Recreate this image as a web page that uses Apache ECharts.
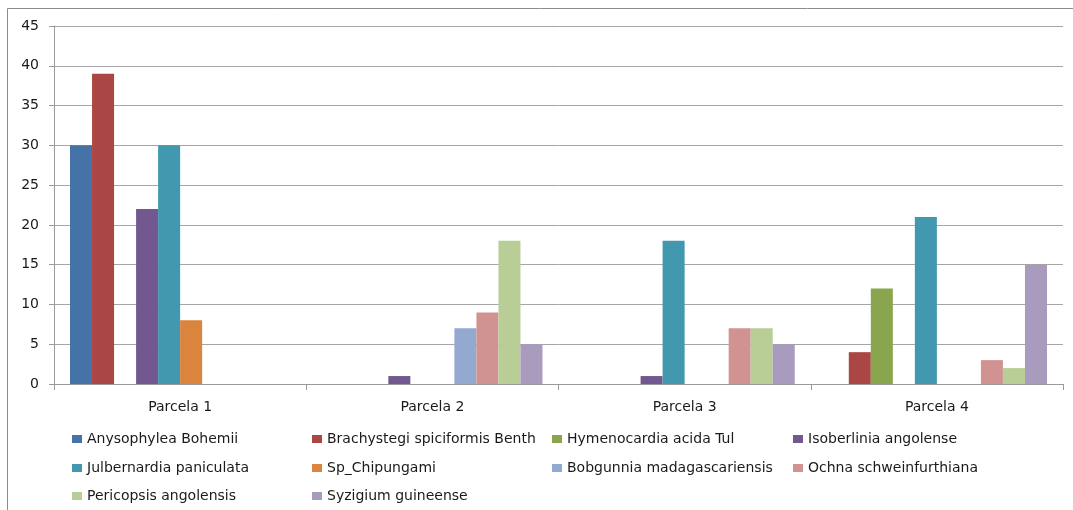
<!DOCTYPE html>
<html>
<head>
<meta charset="utf-8">
<script src="https://cdn.jsdelivr.net/npm/echarts@6/dist/echarts.min.js"></script>
<style>
  html, body { margin: 0; padding: 0; background: #fff; }
  #chart { width: 1073px; height: 510px; }
</style>
</head>
<body>
<div id="chart"></div>
<script>
// Plots and species counts
const categories = ['Parcela 1', 'Parcela 2', 'Parcela 3', 'Parcela 4'];

const anysophylea   = [30, 0, 0, 0];
const brachystegi   = [39, 0, 0, 4];
const hymenocardia  = [0, 0, 0, 12];
const isoberlinia   = [22, 1, 1, 0];
const julbernardia  = [30, 0, 18, 21];
const spChipungami  = [8, 0, 0, 0];
const bobgunnia     = [0, 7, 0, 0];
const ochna         = [0, 9, 7, 3];
const pericopsis    = [0, 18, 7, 2];
const syzigium      = [0, 5, 5, 15];

const seriesNames = [
  'Anysophylea Bohemii', 'Brachystegi spiciformis Benth', 'Hymenocardia acida Tul',
  'Isoberlinia angolense', 'Julbernardia paniculata', 'Sp_Chipungami',
  'Bobgunnia madagascariensis', 'Ochna schweinfurthiana', 'Pericopsis angolensis',
  'Syzigium guineense'
];
const seriesValues = [anysophylea, brachystegi, hymenocardia, isoberlinia, julbernardia,
  spChipungami, bobgunnia, ochna, pericopsis, syzigium];
const colors = ['#4572A7', '#AA4643', '#89A54E', '#71588F', '#4198AF',
  '#DB843D', '#93A9CF', '#D19392', '#B9CD96', '#A99BBD'];

const FONT = 'DejaVu Sans';
const TEXT = '#1a1a1a';

// legend: four columns, filled row by row; one legend block per entry
const legendColX = [72, 312, 552, 793];
const legendRowY = [438, 467, 495];
const legends = seriesNames.map((name, i) => ({
  left: legendColX[i % 4],
  top: legendRowY[Math.floor(i / 4)] - 6,
  padding: 0,
  itemWidth: 10,
  itemHeight: 8,
  icon: 'rect',
  textStyle: { fontFamily: FONT, fontSize: 14, color: TEXT },
  data: [name]
}));

const chart = echarts.init(document.getElementById('chart'));
chart.setOption({
  animation: false,
  color: colors,
  graphic: [{
    type: 'rect',
    shape: { x: 7.5, y: 8.5, width: 1080, height: 520 },
    style: { fill: null, stroke: '#8c8c8c', lineWidth: 1 },
    silent: true
  }],
  grid: { left: 54, right: 10, top: 26, bottom: 126, containLabel: false },
  legend: legends,
  xAxis: {
    type: 'category',
    data: categories,
    axisLine: { lineStyle: { color: '#9a9a9a' } },
    axisTick: { show: true, length: 6, lineStyle: { color: '#9a9a9a' } },
    axisLabel: { fontFamily: FONT, fontSize: 14, color: TEXT, margin: 16 }
  },
  yAxis: {
    type: 'value',
    min: 0, max: 45, interval: 5,
    axisLine: { show: true, lineStyle: { color: '#9a9a9a' } },
    axisTick: { show: true, length: 5, lineStyle: { color: '#9a9a9a' } },
    splitLine: { lineStyle: { color: '#a6a6a6' } },
    axisLabel: { fontFamily: FONT, fontSize: 14, color: TEXT, margin: 15 }
  },
  series: seriesNames.map((name, i) => ({
    name,
    type: 'bar',
    data: seriesValues[i],
    barGap: '0%',
    barCategoryGap: '12.7%'
  }))
});
</script>
</body>
</html>
